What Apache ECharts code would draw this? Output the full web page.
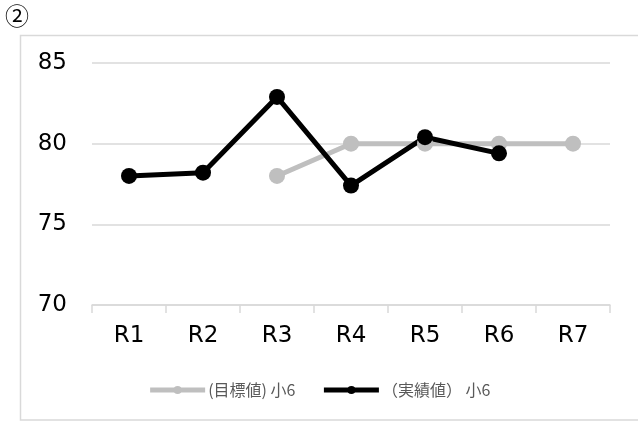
<!DOCTYPE html>
<html><head><meta charset="utf-8">
<script src="https://cdn.jsdelivr.net/npm/echarts@6/dist/echarts.min.js"></script>
<style>html,body{margin:0;padding:0;background:#fff}#c{width:638px;height:421px}</style>
</head><body><div id="c"></div>
<script>
const categories = ['R1','R2','R3','R4','R5','R6','R7'];
const targetName = '(目標値) 小6';
const actualName = '（実績値） 小6';
const targetValues = [null, null, 78, 80, 80, 80, 80];
const actualValues = [78, 78.2, 82.9, 77.4, 80.4, 79.4, null];
const yTicks = { min: 70, max: 85, interval: 5 };

const chart = echarts.init(document.getElementById('c'));
const font = '"Noto Sans CJK JP", "Noto Sans", sans-serif';
const numFont = '"DejaVu Sans", Verdana, sans-serif';
chart.setOption({
  animation: false,
  textStyle: { fontFamily: font },
  graphic: [
    { type: 'rect', shape: { x: 20.5, y: 35.5, width: 640, height: 384.5 }, style: { fill: 'none', stroke: '#D9D9D9', lineWidth: 1.5 } },
    { type: 'text', left: 5, top: 4, style: { text: '②', font: '24px ' + font, fill: '#000' } }
  ],
  grid: { left: 92, right: 28, top: 63, bottom: 116 },
  legend: {
    top: 377, left: 'center', itemGap: 26, itemWidth: 55, itemHeight: 10,
    textStyle: { fontSize: 16, color: '#595959', fontFamily: font, padding: [0, 0, 0, -2] },
    data: [
      { name: targetName, itemStyle: { color: '#BFBFBF' }, lineStyle: { width: 5 } },
      { name: actualName, itemStyle: { color: '#000' }, lineStyle: { width: 5 } }
    ]
  },
  xAxis: {
    type: 'category', data: categories, boundaryGap: true,
    axisLine: { lineStyle: { color: '#D9D9D9', width: 1.5 } },
    axisTick: { show: true, alignWithLabel: false, length: 8, lineStyle: { color: '#D9D9D9', width: 1.5 } },
    axisLabel: { fontSize: 23, color: '#000', margin: 20, fontFamily: numFont }
  },
  yAxis: {
    type: 'value', min: yTicks.min, max: yTicks.max, interval: yTicks.interval,
    axisLine: { show: false }, axisTick: { show: false },
    splitLine: { lineStyle: { color: '#D9D9D9', width: 1.5 } },
    axisLabel: { fontSize: 23, color: '#000', margin: 25, fontFamily: numFont }
  },
  series: [
    { name: targetName, type: 'line', data: targetValues, symbol: 'circle', symbolSize: 16,
      itemStyle: { color: '#BFBFBF' }, lineStyle: { color: '#BFBFBF', width: 5 } },
    { name: actualName, type: 'line', data: actualValues, symbol: 'circle', symbolSize: 16,
      itemStyle: { color: '#000' }, lineStyle: { color: '#000', width: 5 } }
  ]
});
</script></body></html>
